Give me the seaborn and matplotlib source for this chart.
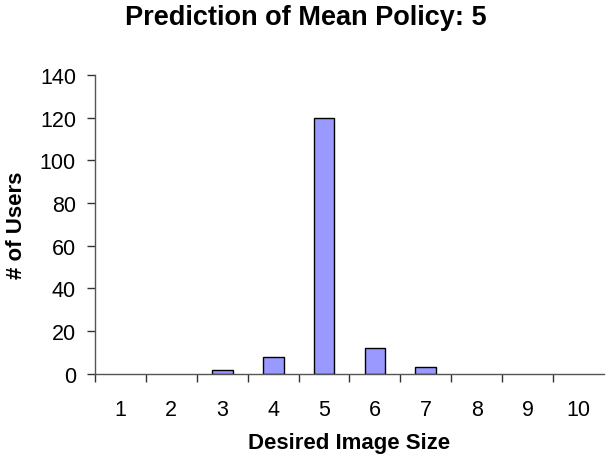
import matplotlib
matplotlib.use("Agg")
import matplotlib.pyplot as plt
import numpy as np
import pandas as pd
import seaborn as sns

sizes = ["1", "2", "3", "4", "5", "6", "7", "8", "9", "10"]
users = [0, 0, 2, 8, 120, 12, 3, 0, 0, 0]

sns.set_style("white")
plt.rcParams["font.family"] = ["Liberation Sans", "DejaVu Sans"]
plt.rcParams["text.color"] = "black"
plt.rcParams["axes.labelcolor"] = "black"
plt.rcParams["xtick.color"] = "black"
plt.rcParams["ytick.color"] = "black"

df = pd.DataFrame({"size": sizes, "users": users})

fig = plt.figure(figsize=(6.11, 4.6), dpi=100)
ax = fig.add_axes([0.155, 0.185, 0.834, 0.65])

sns.barplot(data=df, x="size", y="users", order=sizes, color="#9999FF",
            saturation=1, width=0.41, edgecolor="black", linewidth=1, ax=ax)
# empty categories: no outline
for p in ax.patches:
    if p.get_height() == 0:
        p.set_visible(False)

ax.set_xlim(-0.5, len(sizes) - 0.5)
ax.set_ylim(0, 140)
ax.set_yticks(range(0, 141, 20))
ax.tick_params(axis="y", labelsize=15.5, length=6, width=1, color="#333333",
               direction="out", left=True, pad=7.5)

# Excel-style: tick marks on category boundaries, labels centred
ax.set_xticks(np.arange(len(sizes)), labels=sizes, minor=True)
ax.set_xticks(np.arange(len(sizes)) - 0.5, labels=[""] * len(sizes))
ax.tick_params(axis="x", which="major", length=6, width=1, color="#333333",
               direction="out", bottom=True)
ax.tick_params(axis="x", which="minor", length=0, labelsize=15.5, pad=18)

for s in ["top", "right"]:
    ax.spines[s].set_visible(False)
for s in ["left", "bottom"]:
    ax.spines[s].set_color("#555555")
    ax.spines[s].set_linewidth(1)

ax.set_xlabel("Desired Image Size", fontsize=16, fontweight="bold", labelpad=9)
ax.set_ylabel("# of Users", fontsize=16, fontweight="bold", labelpad=9)
fig.suptitle("Prediction of Mean Policy: 5", fontsize=19.5, fontweight="bold",
             x=0.5, y=0.99)

fig.savefig("out.png", dpi=100)
